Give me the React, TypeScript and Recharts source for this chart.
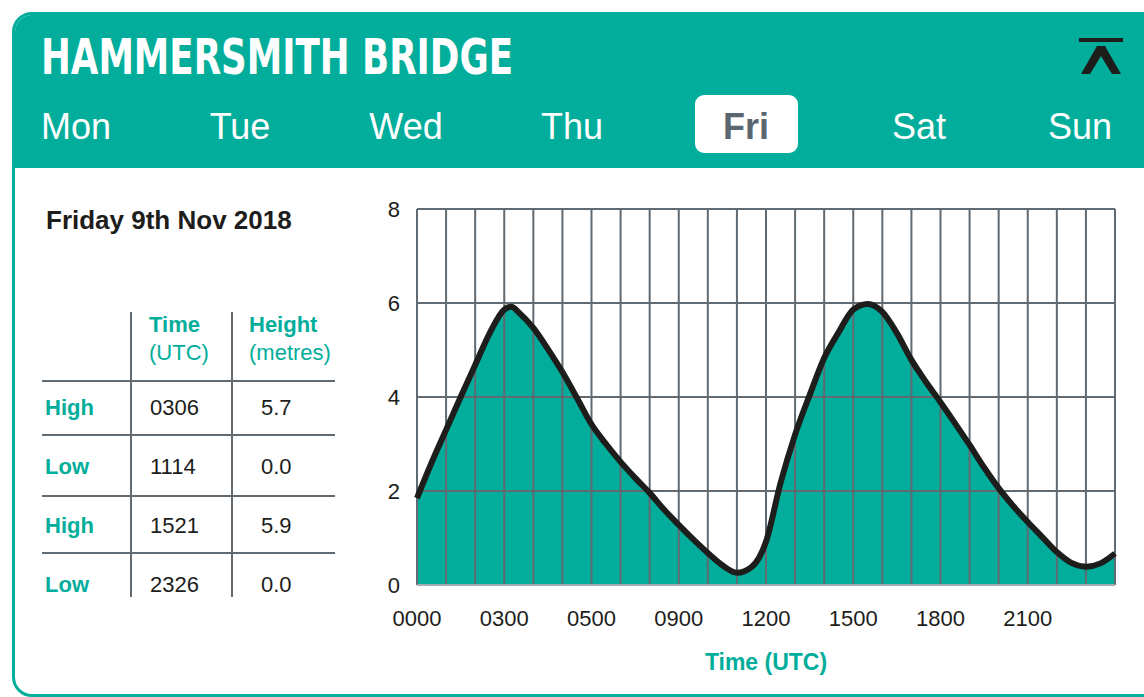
import { Area, CartesianGrid, ComposedChart, Label, Line, XAxis, YAxis } from "recharts";

const TEAL = "#02ae9b";
const GRID = "#5f6a72";
const INK = "#1d1d1b";
const FONT = "'Liberation Sans', Arial, Helvetica, sans-serif";

// tide curve (hours UTC, metres)
const horas = [
  0, 0.5, 1, 1.5, 2, 2.5, 3, 3.25, 3.5, 4, 4.5, 5, 5.5, 6, 6.5, 7, 7.5, 8, 8.5, 9, 9.5, 10, 10.5, 11,
  11.5, 12, 12.5, 13, 13.5, 14, 14.5, 15, 15.5, 16, 16.5, 17, 17.5, 18, 18.5, 19, 19.5, 20, 20.5, 21,
  21.5, 22, 22.5, 23, 23.5, 24,
];
const alturas = [
  1.85, 2.6, 3.3, 4.0, 4.68, 5.36, 5.86, 5.92, 5.8, 5.47, 5.02, 4.53, 3.98, 3.42, 3.0, 2.62, 2.28, 1.96,
  1.6, 1.28, 0.97, 0.68, 0.42, 0.26, 0.38, 0.92, 2.17, 3.2, 4.04, 4.83, 5.38, 5.86, 5.98, 5.81, 5.36,
  4.79, 4.32, 3.89, 3.44, 2.98, 2.5, 2.06, 1.68, 1.34, 1.02, 0.7, 0.47, 0.39, 0.46, 0.67,
];

const ticksHora = [0, 1, 2, 3, 4, 5, 6, 7, 8, 9, 10, 11, 12, 13, 14, 15, 16, 17, 18, 19, 20, 21, 22, 23, 24];
const rotulosHora = ["0000", "0300", "0500", "0900", "1200", "1500", "1800", "2100"];
const ticksAltura = [0, 2, 4, 6, 8];

const dias = ["Mon", "Tue", "Wed", "Thu", "Fri", "Sat", "Sun"];
const centrosDias = [76, 240, 406, 572, 746, 919, 1080];
const diaSelecionado = "Fri";

const tiposMare = ["High", "Low", "High", "Low"];
const horasMare = ["0306", "1114", "1521", "2326"];
const alturasMare = ["5.7", "0.0", "5.9", "0.0"];

const dadosGrafico = horas.map((hora, i) => ({ hora, altura: alturas[i] }));

function rotuloHora(h: number) {
  if (h % 3 !== 0 || h >= 24) return "";
  return rotulosHora[h / 3];
}

function Cabecalho() {
  return (
    <svg width={1144} height={170} style={{ position: "absolute", left: 0, top: 0 }}>
      <text
        x={41}
        y={74}
        fontSize={50}
        fontWeight={700}
        fontFamily="'DejaVu Sans Condensed', 'DejaVu Sans', sans-serif"
        fill="#ffffff"
        textLength={472}
        lengthAdjust="spacingAndGlyphs"
      >
        HAMMERSMITH BRIDGE
      </text>
      <rect x={1079} y={38} width={44} height={4} fill={INK} />
      <polygon points="1081,74 1097,46 1105,46 1121,74 1112,74 1101,56 1090,74" fill={INK} />
      {dias.map((dia, i) =>
        dia === diaSelecionado ? (
          <g key={dia}>
            <rect x={695} y={95} width={103} height={58} rx={9} fill="#ffffff" />
            <text x={centrosDias[i]} y={139} textAnchor="middle" fontSize={36} fontWeight={700} fill="#5b6770">
              {dia}
            </text>
          </g>
        ) : (
          <text key={dia} x={centrosDias[i]} y={139} textAnchor="middle" fontSize={36} fill="#ffffff">
            {dia}
          </text>
        )
      )}
    </svg>
  );
}

function TabelaMares() {
  const linhas = [381, 435, 496, 553];
  return (
    <svg width={360} height={697} style={{ position: "absolute", left: 0, top: 0 }}>
      <text x={46} y={229} fontSize={26} fontWeight={700} fill={INK}>
        Friday 9th Nov 2018
      </text>
      <line x1={131} y1={312} x2={131} y2={597} stroke={GRID} strokeWidth={2} />
      <line x1={232} y1={312} x2={232} y2={597} stroke={GRID} strokeWidth={2} />
      {linhas.map((y) => (
        <line key={y} x1={42} y1={y} x2={335} y2={y} stroke={GRID} strokeWidth={2} />
      ))}
      <text x={149} y={332} fontSize={22} fontWeight={700} fill={TEAL}>Time</text>
      <text x={149} y={360} fontSize={22} fill={TEAL}>(UTC)</text>
      <text x={249} y={332} fontSize={22} fontWeight={700} fill={TEAL}>Height</text>
      <text x={249} y={360} fontSize={22} fill={TEAL}>(metres)</text>
      {tiposMare.map((tipo, i) => {
        const y = 415 + i * 59;
        return (
          <g key={i}>
            <text x={45} y={y} fontSize={22} fontWeight={700} fill={TEAL}>{tipo}</text>
            <text x={150} y={y} fontSize={22} fill={INK}>{horasMare[i]}</text>
            <text x={261} y={y} fontSize={22} fill={INK}>{alturasMare[i]}</text>
          </g>
        );
      })}
    </svg>
  );
}

function GraficoMare() {
  return (
    <div style={{ position: "absolute", left: 360, top: 190 }}>
      <ComposedChart
        width={780}
        height={500}
        data={dadosGrafico}
        margin={{ top: 19, right: 25, bottom: 15, left: 17 }}
      >
        <XAxis
          dataKey="hora"
          type="number"
          domain={[0, 24]}
          ticks={ticksHora}
          interval={0}
          tickFormatter={rotuloHora}
          tickLine={false}
          tickSize={0}
          tickMargin={25}
          height={90}
          axisLine={{ stroke: "#a4acb2", strokeWidth: 2 }}
          tick={{ fontSize: 22, fill: INK }}
        >
          <Label value="Time (UTC)" position="insideBottom" offset={5} fontSize={23} fontWeight={700} fill={TEAL} />
        </XAxis>
        <YAxis
          type="number"
          domain={[0, 8]}
          ticks={ticksAltura}
          interval={0}
          width={40}
          tickLine={false}
          tickSize={0}
          tickMargin={17}
          axisLine={false}
          tick={{ fontSize: 22, fill: INK }}
        />
        <Area
          dataKey="altura"
          type="monotone"
          fill={TEAL}
          fillOpacity={1}
          stroke="none"
          isAnimationActive={false}
        />
        <CartesianGrid stroke={GRID} strokeWidth={2} zIndex={150} />
        <Line
          dataKey="altura"
          type="monotone"
          stroke={INK}
          strokeWidth={6}
          dot={false}
          activeDot={false}
          isAnimationActive={false}
        />
      </ComposedChart>
    </div>
  );
}

export default function App() {
  return (
    <div
      style={{
        position: "absolute",
        left: 0,
        top: 0,
        width: 1144,
        height: 697,
        overflow: "hidden",
        background: "#ffffff",
        fontFamily: FONT,
      }}
    >
      <div
        style={{
          position: "absolute",
          left: 12,
          top: 12,
          width: 1160,
          height: 685,
          boxSizing: "border-box",
          border: `3px solid ${TEAL}`,
          borderRadius: 20,
          background: "#ffffff",
          overflow: "hidden",
        }}
      >
        <div style={{ height: 153, background: TEAL }} />
      </div>
      <Cabecalho />
      <TabelaMares />
      <GraficoMare />
    </div>
  );
}
